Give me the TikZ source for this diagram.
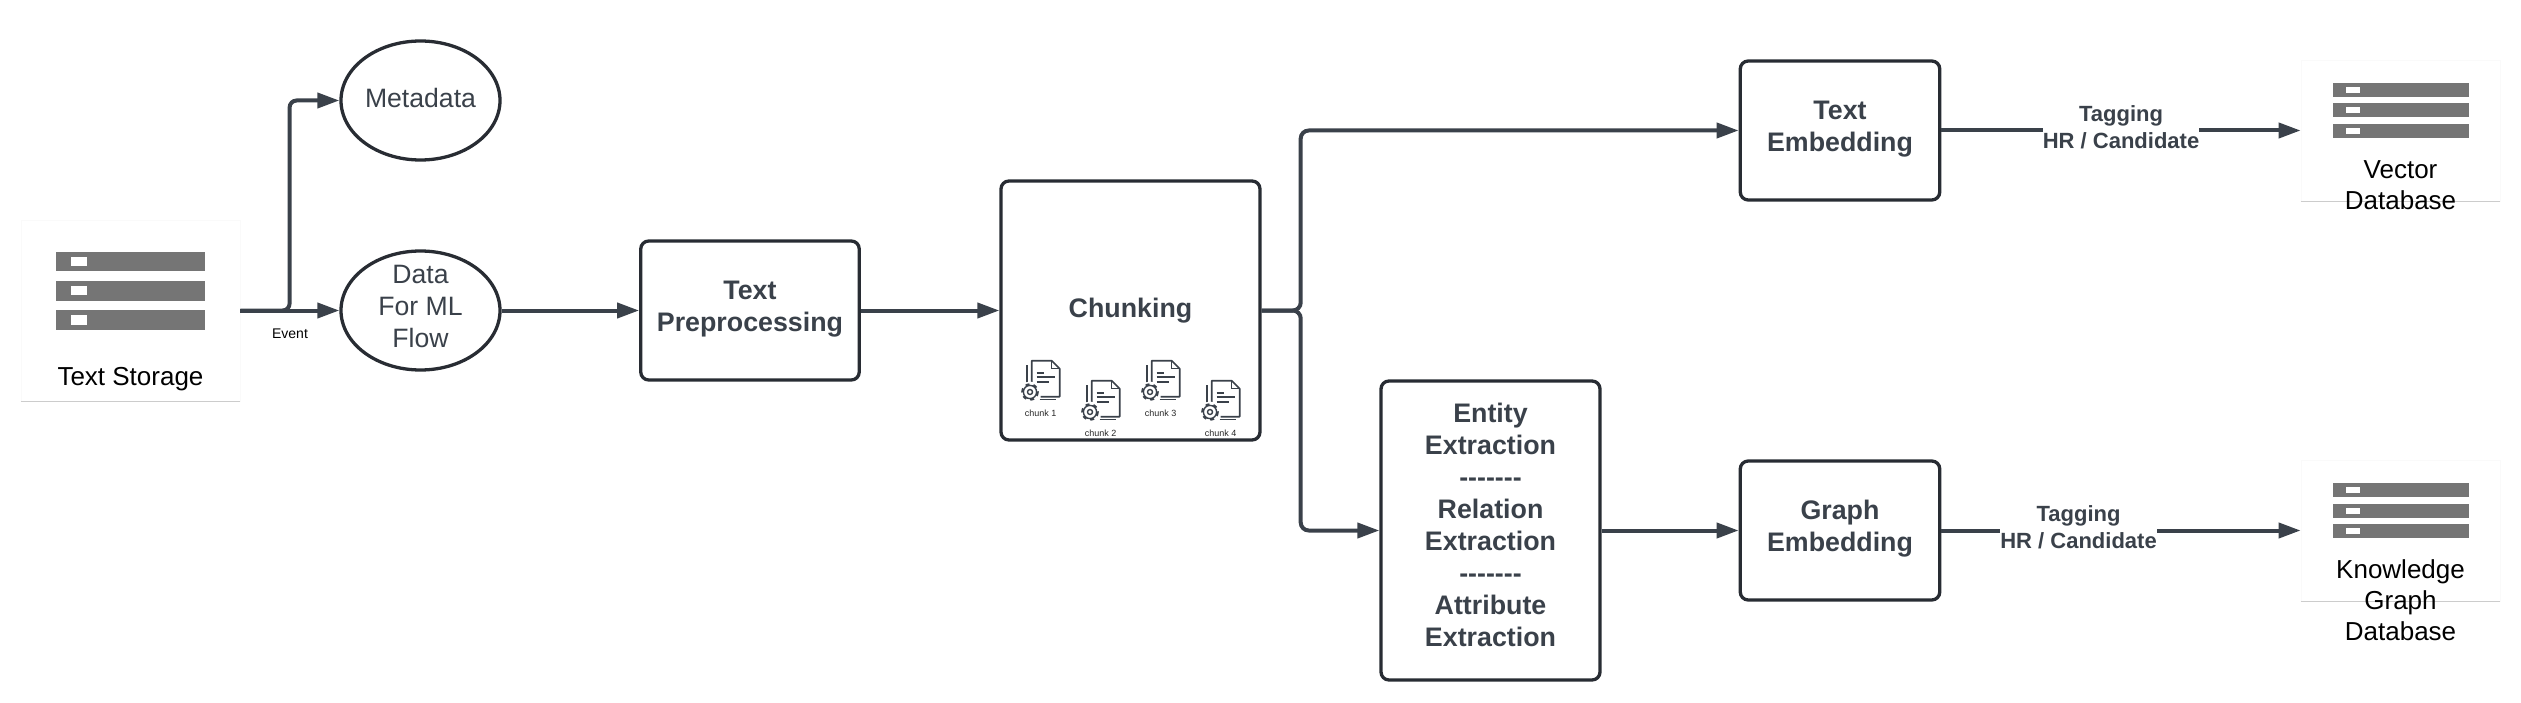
\documentclass[tikz,border=0pt]{standalone}
\usepackage{fontspec}
\setmainfont{Liberation Sans}
\usepackage{xcolor}
\usetikzlibrary{arrows.meta, positioning, shapes.geometric}
\definecolor{edgegray}{HTML}{3A414A}
\definecolor{boxgray}{HTML}{282C33}
\definecolor{bargray}{HTML}{757575}
\newcommand{\dashrow}{-{}-{}-{}-{}-{}-{}-}
\tikzset{
    flowbox/.style={draw=boxgray, line width=3.3pt, rectangle, rounded corners=8pt, inner sep=0pt, text=edgegray,
        align=center, text depth=9pt, font=\fontsize{26.8}{32}\selectfont\bfseries},
    flowoval/.style={draw=boxgray, line width=3.3pt, ellipse, inner sep=0pt, minimum width=159pt, minimum height=119pt},
    ovaltext/.style={text=edgegray, align=center, inner sep=0pt, font=\fontsize{26.6}{32}\selectfont},
    cardbox/.style={draw=black!2, fill=white, line width=0.8pt, rectangle, inner sep=0pt},
    cardedge/.style={draw=black!20, line width=1.4pt},
    cardtext/.style={text=black, align=center, inner sep=0pt, font=\fontsize{26}{31}\selectfont},
    flowline/.style={draw=edgegray, line width=4pt},
    flowarrow/.style={flowline, -{Triangle[length=22pt,width=15pt]}},
    taglabel/.style={fill=white, text=edgegray, align=center, inner sep=0pt, font=\fontsize{22}{27}\selectfont\bfseries},
    smalllabel/.style={text=black!85, inner sep=0pt, font=\fontsize{9}{11}\selectfont},
    largebars/.pic={
        \foreach \y in {0,29,58} {
            \fill[bargray] (0,\y) rectangle (149.5,\y+19.5);
            \fill[white] (15,\y+5) rectangle (31,\y+14.5);
        }
    },
    smallbars/.pic={
        \foreach \y in {0,20.5,41} {
            \fill[bargray] (0,\y) rectangle (136.5,\y+14);
            \fill[white] (13.5,\y+4) rectangle (27,\y+10);
        }
    },
    chunkdoc/.pic={
        % Sheets
        \draw[edgegray, line width=1.6pt, line join=round] (0,24) -- (0,0) -- (20,0) -- (28,8) -- (28,36) -- (9,36);
        \draw[edgegray, line width=1.4pt] (20,0) -- (20,8) -- (28,8);
        \draw[edgegray, line width=1.6pt] (-4.5,24) -- (-4.5,4.5);
        \draw[edgegray, line width=1.6pt] (8,38.8) -- (24,38.8);
        \draw[edgegray, line width=1.6pt] (5,12) -- (12,12);
        \draw[edgegray, line width=1.6pt] (5,16.5) -- (23,16.5);
        \draw[edgegray, line width=1.6pt] (5,21) -- (17,21);
        % Gear
        \fill[white] (-1.7,31.3) circle (10.5);
        \draw[edgegray, line width=2.4pt, dash pattern=on 3.9pt off 3.9pt] (-1.7,31.3) circle (7.6);
        \draw[edgegray, fill=white, line width=1.4pt] (-1.7,31.3) circle (6.6);
        \draw[edgegray, line width=1.4pt] (-1.7,31.3) circle (2.5);
    }
}

\begin{document}
\begin{tikzpicture}[x=1pt, y=-1pt]
    \useasboundingbox (0,0) rectangle (2521,703);

    % Stores
    \node[cardbox, minimum width=219pt, minimum height=181pt] (storage) at (130.5,310.5) {};
    \node[cardbox, minimum width=199pt, minimum height=141pt] (vectordb) at (2400.5,130.5) {};
    \node[cardbox, minimum width=199pt, minimum height=141pt] (graphdb) at (2400.5,530.5) {};
    \draw[cardedge] (storage.south west) -- (storage.south east);
    \draw[cardedge] (vectordb.south west) -- (vectordb.south east);
    \draw[cardedge] (graphdb.south west) -- (graphdb.south east);
    \pic (storagebars) at (55.5,252) {largebars};
    \pic (vectorbars) at (2332.5,83) {smallbars};
    \pic (graphbars) at (2332.5,483) {smallbars};
    \node[cardtext] (storagetext) at (130.5,379.5) {Text Storage};
    \node[cardtext] (vectortext) at (2400.5,185) {Vector\\Database};
    \node[cardtext] (graphtext) at (2400.5,600.5) {Knowledge\\Graph\\Database};

    % Flow boxes
    \node[flowoval] (metadata) at (420.5,100.5) {};
    \node[flowoval] (dataflow) at (420.5,310.5) {};
    \node[ovaltext] (metadatatext) at (420.5,98) {Metadata};
    \node[ovaltext] (dataflowtext) at (420.5,306) {Data\\For ML\\Flow};
    \node[flowbox, minimum width=218.5pt, minimum height=139pt] (preprocess) at (750,310.5) {Text\\Preprocessing};
    \node[flowbox, minimum width=259pt, minimum height=259pt, text depth=5.6pt] (chunking) at (1130.5,310.5) {Chunking};
    \node[flowbox, minimum width=199.5pt, minimum height=139pt] (embedtext) at (1840,130.5) {Text\\Embedding};
    \node[flowbox, minimum width=219pt, minimum height=299pt, text depth=12pt] (extraction) at (1490.5,530.5)
        {Entity\\Extraction\\\dashrow\\Relation\\Extraction\\\dashrow\\Attribute\\Extraction};
    \node[flowbox, minimum width=199.5pt, minimum height=139pt] (embedgraph) at (1840,530.5) {Graph\\Embedding};

    % Document icons
    \pic (docone) at (1031.7,360.7) {chunkdoc};
    \pic (doctwo) at (1091.7,380.7) {chunkdoc};
    \pic (docthree) at (1151.7,360.7) {chunkdoc};
    \pic (docfour) at (1211.7,380.7) {chunkdoc};
    \node[smalllabel] (chunkone) at (1040.5,413.5) {chunk 1};
    \node[smalllabel] (chunktwo) at (1100.5,433.5) {chunk 2};
    \node[smalllabel] (chunkthree) at (1160.5,413.5) {chunk 3};
    \node[smalllabel] (chunkfour) at (1220.5,433.5) {chunk 4};

    % Branch points
    \coordinate (eventfork) at (289.6,310.5);
    \coordinate (chunkfork) at (1300.7,310.5);

    % Connectors
    \draw[flowarrow] (storage) -- (dataflow);
    \draw[flowarrow, rounded corners=7pt] (storage.east) -- (eventfork) |- (metadata);
    \draw[flowarrow] (dataflow) -- (preprocess);
    \draw[flowarrow] (preprocess) -- (chunking);
    \draw[flowarrow, rounded corners=8pt] (chunking.east) -- (chunkfork) |- (embedtext);
    \draw[flowarrow, rounded corners=8pt] (chunking.east) -- (chunkfork) |- (extraction);
    \draw[flowarrow] (extraction) -- (embedgraph);
    \draw[flowarrow] (embedtext) -- (vectordb);
    \draw[flowarrow] (embedgraph) -- (graphdb);

    % Labels on the connectors
    \node[smalllabel, font=\fontsize{14}{16}\selectfont, text=black] (eventlabel) at (290,334) {Event};
    \node[taglabel] (tagtext) at (2121,127.5) {Tagging\\HR / Candidate};
    \node[taglabel] (taggraph) at (2078.5,527.5) {Tagging\\HR / Candidate};
\end{tikzpicture}
\end{document}
